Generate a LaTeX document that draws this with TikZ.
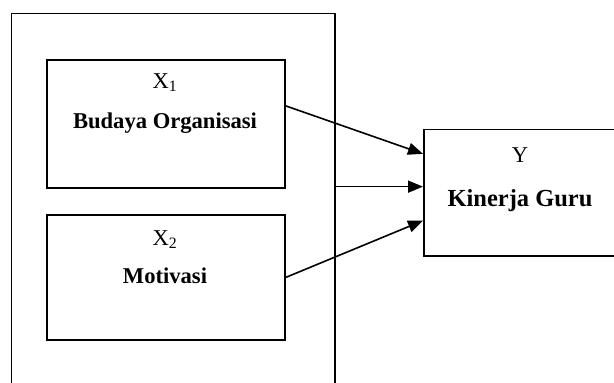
\documentclass[tikz,border=0pt]{standalone}
\usepackage{fontspec}
\setmainfont{Liberation Serif}
\usetikzlibrary{arrows.meta}
\begin{document}
\begin{tikzpicture}[x=1pt,y=-1pt,
  varbox/.style={draw,line width=1.8pt,rectangle,inner sep=0pt,anchor=north west},
  label/.style={anchor=base,inner sep=0pt,font=\fontsize{22.6}{27}\selectfont},
  boldlabel/.style={label,font=\fontsize{22.6}{27}\selectfont\bfseries},
  link/.style={line width=1.6pt,-{Triangle[length=15pt,width=12pt]}}]
\useasboundingbox (0,0) rectangle (614,383);
\clip (0,0) rectangle (614,383);
% outer frame grouping the two independent variables
\node[varbox,minimum width=323.5pt,minimum height=400pt] (frame) at (10.5,12.5) {};
% independent variables
\node[varbox,minimum width=238pt,minimum height=128pt] (b1) at (46,59) {};
\node[varbox,minimum width=238pt,minimum height=125pt] (b2) at (46,214) {};
% dependent variable
\node[varbox,minimum width=200pt,minimum height=126.5pt] (yb) at (423,128.5) {};
% labels
\node[label] (x1) at (165,88.3) {X\textsubscript{1}};
\node[boldlabel] (t1) at (165,128.3) {Budaya Organisasi};
\node[label] (x2) at (165,245) {X\textsubscript{2}};
\node[boldlabel] (t2) at (165,283.3) {Motivasi};
\node[label] (yl) at (520,162.7) {Y};
\node[boldlabel,font=\fontsize{24.5}{29}\selectfont\bfseries] (ty) at (520,206) {Kinerja Guru};
% connectors
\coordinate (e1) at ([yshift=38.8pt]yb.west);
\coordinate (e2) at ([yshift=6pt]yb.west);
\coordinate (e3) at ([yshift=-28pt]yb.west);
\draw[link] ([yshift=18pt]b1.east) -- (e1);
\draw[link] (frame.east |- e2) -- (e2);
\draw[link] (b2.east) -- (e3);
\end{tikzpicture}
\end{document}
